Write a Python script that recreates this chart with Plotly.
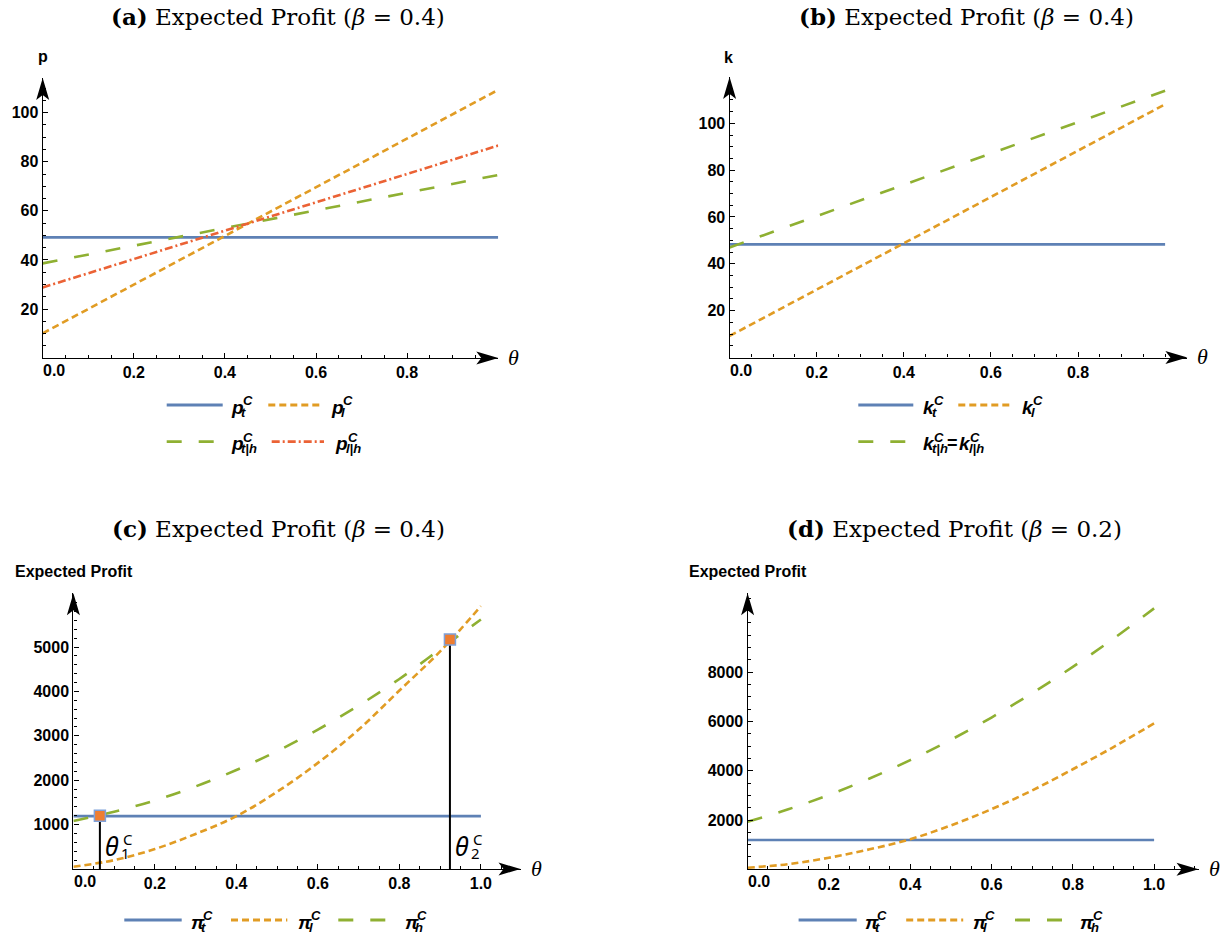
import plotly.graph_objects as go

# ---------------- data ----------------
theta_lin = [0.0, 1.0]
a_p_t = [49.2, 49.2]
a_p_l = [10.1, 109.3]
a_p_th = [38.6, 74.6]
a_p_lh = [28.8, 86.6]

b_k_t = [48.3, 48.3]
b_k_l = [9.2, 108.1]
b_k_th = [47.0, 113.9]

theta_q = [0.0, 0.1, 0.2, 0.3, 0.4, 0.5, 0.6, 0.7, 0.8, 0.9, 1.0]
c_pi_t = [1190, 1190]
c_pi_l = [50, 200, 450, 790, 1190, 1740, 2390, 3140, 4020, 4900, 5920]
c_pi_h = [1080, 1290, 1545, 1860, 2230, 2655, 3140, 3680, 4280, 4950, 5620]
c_mark_theta = [0.065, 0.924]
c_mark_pi = [1200, 5170]
c_mark_labels = [("θ", "1", "C"), ("θ", "2", "C")]

d_pi_t = [1190, 1190]
d_pi_l = [65, 210, 470, 810, 1220, 1780, 2440, 3200, 4060, 4960, 5925]
d_pi_h = [1930, 2435, 3020, 3685, 4430, 5255, 6160, 7150, 8215, 9360, 10590]

x_ticks_ab = [0.2, 0.4, 0.6, 0.8]
x_ticks_cd = [0.2, 0.4, 0.6, 0.8, 1.0]
y_ticks_ab = [20, 40, 60, 80, 100]
y_ticks_c = [1000, 2000, 3000, 4000, 5000]
y_ticks_d = [2000, 4000, 6000, 8000]

titles = {
    "a": "<b>(a)</b> Expected Profit (<i>β</i> = 0.4)",
    "b": "<b>(b)</b> Expected Profit (<i>β</i> = 0.4)",
    "c": "<b>(c)</b> Expected Profit (<i>β</i> = 0.4)",
    "d": "<b>(d)</b> Expected Profit (<i>β</i> = 0.2)",
}
y_titles = {"a": "p", "b": "k", "c": "Expected Profit", "d": "Expected Profit"}

# ---------------- styling ----------------
W, H = 1225, 939
BLUE, ORANGE, GREEN, RED = "#5E81B5", "#E19C24", "#8FB032", "#EB6235"
DASH_OR = "7px,4px"
DASH_GR = "15px,17px"
DASH_RD = "8px,3px,2px,3px"
LW = 2.6


def fx(p):
    return p / W


def fy(p):
    return 1 - p / H


# pixel geometry of each panel: origin, pixels per unit, arrow tips
G = {
    "a": dict(x0=42.7, xs=455.5, xtip=498.3, y0=358.1, ys=2.454, ytip=78.0,
              xt=x_ticks_ab, yt=y_ticks_ab, xminor=0.05, yminor=5),
    "b": dict(x0=729.6, xs=435.5, xtip=1187.4, y0=357.5, ys=2.342, ytip=77.0,
              xt=x_ticks_ab, yt=y_ticks_ab, xminor=0.05, yminor=5),
    "c": dict(x0=73.4, xs=407.5, xtip=520.5, y0=869.0, ys=0.0444, ytip=593.3,
              xt=x_ticks_cd, yt=y_ticks_c, xminor=0.05, yminor=200),
    "d": dict(x0=747.6, xs=406.5, xtip=1198.5, y0=869.3, ys=0.02464, ytip=593.3,
              xt=x_ticks_cd, yt=y_ticks_d, xminor=0.05, yminor=500),
}
AX = {"a": ("x", "y"), "b": ("x2", "y2"), "c": ("x3", "y3"), "d": ("x4", "y4")}

fig = go.Figure()
layout = dict(width=W, height=H, margin=dict(l=0, r=0, t=0, b=0),
              paper_bgcolor="white", plot_bgcolor="white", showlegend=False)

tickfont = dict(family="Liberation Sans", size=16, color="black")
shapes, annotations = [], []


def ann(x, y, text, font, xanchor="left", yanchor="middle"):
    annotations.append(dict(x=fx(x), y=fy(y), xref="paper", yref="paper", text=text,
                            showarrow=False, xanchor=xanchor, yanchor=yanchor,
                            borderpad=0, borderwidth=0, font=font))


for key, g in G.items():
    xa, ya = AX[key]
    xname = "xaxis" + xa[1:]
    yname = "yaxis" + ya[1:]
    layout[xname] = dict(
        domain=[fx(g["x0"]), fx(g["xtip"])],
        range=[0, (g["xtip"] - g["x0"]) / g["xs"]],
        anchor=ya, showline=True, linecolor="black", linewidth=1.3,
        ticks="inside", ticklen=5, tickwidth=1, tickcolor="black",
        tickmode="array", tickvals=g["xt"], ticktext=[f"<b>{v:.1f}</b>" for v in g["xt"]],
        tickfont=tickfont, showgrid=False, zeroline=False, fixedrange=True,
        minor=dict(ticks="inside", ticklen=3, tickwidth=1, tickcolor="black",
                   dtick=g["xminor"], tick0=0, showgrid=False),
    )
    layout[yname] = dict(
        domain=[fy(g["y0"]), fy(g["ytip"])],
        range=[0, (g["y0"] - g["ytip"]) / g["ys"]],
        anchor=xa, showline=True, linecolor="black", linewidth=1.3,
        ticks="inside", ticklen=5, tickwidth=1, tickcolor="black",
        tickmode="array", tickvals=g["yt"], ticktext=[f"<b>{v}</b>" for v in g["yt"]],
        tickfont=tickfont, showgrid=False, zeroline=False, fixedrange=True,
        minor=dict(ticks="inside", ticklen=3, tickwidth=1, tickcolor="black",
                   dtick=g["yminor"], tick0=0, showgrid=False),
    )
    # arrow heads
    shapes.append(dict(type="path", xref=xa + " domain", yref=ya + " domain",
                       xsizemode="pixel", ysizemode="pixel", xanchor=1, yanchor=0,
                       path="M0,0 L-22,6.5 L-17,0 L-22,-6.5 Z",
                       fillcolor="black", line=dict(width=0)))
    shapes.append(dict(type="path", xref=xa + " domain", yref=ya + " domain",
                       xsizemode="pixel", ysizemode="pixel", xanchor=0, yanchor=1,
                       path="M0,0 L-6.5,-22 L0,-17 L6.5,-22 Z",
                       fillcolor="black", line=dict(width=0)))
    # "0.0" label shifted right of the origin
    ann(g["x0"] + 0.5, g["y0"] + 4, "<b>0.0</b>", tickfont, "left", "top")
    # theta axis label
    ann(g["xtip"] + 15.5, g["y0"] - 1, "<i>θ</i>",
        dict(family="Liberation Serif", size=22, color="black"), "center", "middle")

# titles
title_pos = {"a": (278.3, 16.5), "b": (966.3, 16.5), "c": (278.3, 528.5), "d": (954.4, 528.5)}
for key, (tx, ty) in title_pos.items():
    ann(tx, ty, titles[key], dict(family="DejaVu Serif", size=23, color="black"), "center", "middle")

# y axis titles
ytitle_pos = {"a": (43, 56.2), "b": (728.9, 57.8), "c": (74, 571.8), "d": (748, 571.8)}
for key, (tx, ty) in ytitle_pos.items():
    ann(tx, ty, "<b>" + y_titles[key] + "</b>",
        dict(family="Liberation Sans", size=16, color="black"), "center", "middle")


def line(key, x, y, color, dash="solid", shape="linear"):
    xa, ya = AX[key]
    fig.add_trace(go.Scatter(x=x, y=y, mode="lines", xaxis=xa, yaxis=ya,
                             line=dict(color=color, width=LW, dash=dash, shape=shape, smoothing=1.0),
                             hoverinfo="skip"))


# panel a
line("a", theta_lin, a_p_t, BLUE)
line("a", theta_lin, a_p_l, ORANGE, DASH_OR)
line("a", theta_lin, a_p_th, GREEN, DASH_GR)
line("a", theta_lin, a_p_lh, RED, DASH_RD)
# panel b
line("b", theta_lin, b_k_t, BLUE)
line("b", theta_lin, b_k_l, ORANGE, DASH_OR)
line("b", theta_lin, b_k_th, GREEN, DASH_GR)
# panel c
line("c", theta_lin, c_pi_t, BLUE)
line("c", theta_q, c_pi_l, ORANGE, DASH_OR, "spline")
line("c", theta_q, c_pi_h, GREEN, DASH_GR, "spline")
for t, v in zip(c_mark_theta, c_mark_pi):
    fig.add_trace(go.Scatter(x=[t, t], y=[0, v], mode="lines", xaxis="x3", yaxis="y3",
                             line=dict(color="black", width=2), hoverinfo="skip"))
fig.add_trace(go.Scatter(x=c_mark_theta, y=c_mark_pi, mode="markers", xaxis="x3", yaxis="y3",
                         marker=dict(symbol="square", size=11, color="#EE7D31",
                                     line=dict(color="#7FA1DA", width=1.5)),
                         cliponaxis=False, hoverinfo="skip"))
# panel d
line("d", theta_lin, d_pi_t, BLUE)
line("d", theta_q, d_pi_l, ORANGE, DASH_OR, "spline")
line("d", theta_q, d_pi_h, GREEN, DASH_GR, "spline")

# theta_1^C / theta_2^C labels (placed next to the marker lines)
gc = G["c"]
for (t, (b, sub, sup)) in zip(c_mark_theta, c_mark_labels):
    px = gc["x0"] + t * gc["xs"]
    ann(px + 5, 845.5, b, dict(family="Noto Sans", size=25, color="black", style="italic"))
    ann(px + 21, 852.5, sub, dict(family="Noto Sans", size=15, color="black"))
    ann(px + 23.5, 839.0, sup, dict(family="Noto Sans", size=15, color="black"))

# ---------------- custom legends ----------------
LEGF = dict(family="Liberation Sans", color="black", weight="bold", style="italic")


def sample(x0, x1, y, color, dash):
    shapes.append(dict(type="line", xref="paper", yref="paper", x0=fx(x0), x1=fx(x1),
                       y0=fy(y), y1=fy(y), line=dict(color=color, width=2.8, dash=dash)))


def sym(x, y, base, sub, sup, sup_dx, sub_dx, size=19, small=13):
    ann(x, y + 2.0, base, dict(size=size, **LEGF))
    ann(x + sup_dx, y - 4.6, sup, dict(size=small, **LEGF))
    ann(x + sub_dx, y + 7.0, sub, dict(size=small, **LEGF))


# (a)
sample(166.7, 222.7, 405, BLUE, "solid")
sym(230.5, 405, "p", "t", "C", 12.5, 10.5)
sample(268.3, 321.7, 405, ORANGE, DASH_OR)
sym(330.5, 405, "p", "l", "C", 12.5, 10.5)
sample(166.7, 216.7, 441.7, GREEN, DASH_GR)
sym(230.5, 441.7, "p", "t|h", "C", 12.5, 10.5)
sample(271.7, 324.0, 441.7, RED, DASH_RD)
sym(335.0, 441.7, "p", "l|h", "C", 12.5, 10.5)
# (b)
sample(858.3, 913.3, 405, BLUE, "solid")
sym(922.5, 405, "k", "t", "C", 11.0, 9.5)
sample(958.3, 1011.7, 405, ORANGE, DASH_OR)
sym(1021.5, 405, "k", "l", "C", 11.0, 9.5)
sample(858.3, 906.7, 441.7, GREEN, DASH_GR)
sym(922.5, 441.7, "k", "t|h", "C", 11.0, 9.5)
ann(946.5, 441.7 + 1.0, "<b>=</b>", dict(size=18, family="Liberation Sans", color="black"))
sym(959.0, 441.7, "k", "l|h", "C", 11.0, 9.5)
# (c)
sample(124.3, 181.7, 920, BLUE, "solid")
sym(190.5, 920, "π", "t", "C", 12.5, 10.5)
sample(231.0, 287.3, 920, ORANGE, DASH_OR)
sym(298.0, 920, "π", "l", "C", 12.5, 10.5)
sample(338.3, 390.0, 920, GREEN, DASH_GR)
sym(404.5, 920, "π", "h", "C", 12.5, 10.5)
# (d)
sample(798.6, 856.7, 920, BLUE, "solid")
sym(864.5, 920, "π", "t", "C", 12.5, 10.5)
sample(906.2, 963.2, 920, ORANGE, DASH_OR)
sym(972.5, 920, "π", "l", "C", 12.5, 10.5)
sample(1015.0, 1065.6, 920, GREEN, DASH_GR)
sym(1080.0, 920, "π", "h", "C", 12.5, 10.5)

layout["shapes"] = shapes
layout["annotations"] = annotations
fig.update_layout(**layout)
fig.write_html("out.html")
